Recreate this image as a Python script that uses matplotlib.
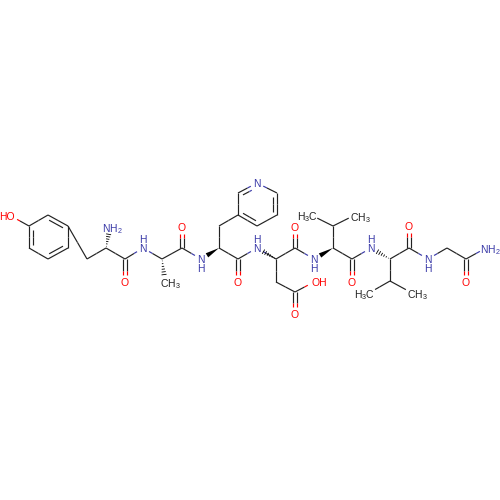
import matplotlib
matplotlib.use("Agg")
import matplotlib.pyplot as plt
import numpy as np

plt.rcParams['mathtext.default'] = 'regular'
plt.rcParams['mathtext.fontset'] = 'custom'
plt.rcParams['mathtext.rm'] = 'Liberation Sans'

BLUE = "#3a3aa8"
RED = "#ff0000"
BLACK = "#222222"
colors = {"C": BLACK, "N": BLUE, "O": RED}

# atom positions (pixels)
atom_x = [29, 48, 68, 68, 48, 29, 11, 87, 106, 110, 125, 125, 143, 162, 165, 182, 182, 201,
          219, 219, 238, 238, 257, 277, 277, 257, 238, 238, 257, 276, 276, 295, 295, 314,
          295, 295, 314, 333, 333, 311, 355, 352, 352, 371, 390, 390, 369, 412, 409, 409,
          428, 447, 466, 466, 486]
atom_y = [226, 215, 226, 248, 259, 248, 216, 259, 248, 227, 259, 282, 248, 259, 282, 248, 227, 259,
          248, 226, 215, 193, 183, 193, 215, 226, 259, 282, 248, 259, 282, 292, 314, 282,
          248, 227, 259, 248, 226, 215, 215, 259, 282, 248, 259, 281, 293, 293, 248, 226,
          259, 248, 259, 282, 248]
atom_el = ["C", "C", "C", "C", "C", "C", "O", "C", "C", "N", "C", "O", "N", "C", "C", "C", "O", "N",
           "C", "C", "C", "C", "N", "C", "C", "C", "C", "O", "N", "C", "C", "C", "O", "O",
           "C", "O", "N", "C", "C", "C", "C", "C", "O", "N", "C", "C", "C", "C", "C", "O",
           "N", "C", "C", "O", "N"]
# atoms that carry a printed label even though they are carbon
label_carbons = [14, 39, 40, 46, 47]

single_bonds = [(0, 1), (2, 3), (4, 5), (0, 6), (2, 7), (7, 8), (8, 10), (10, 12), (12, 13),
                (13, 15), (15, 17), (18, 19), (19, 20), (20, 21), (22, 23), (24, 25),
                (18, 26), (26, 28), (28, 29), (29, 30), (30, 31), (31, 33), (29, 34), (34, 36),
                (37, 38), (38, 39), (38, 40), (37, 41), (41, 43), (44, 45), (45, 46), (45, 47),
                (44, 48), (48, 50), (50, 51), (51, 52), (52, 54)]
ring_double = [(1, 2, 48, 237), (3, 4, 48, 237), (5, 0, 48, 237),
               (21, 22, 257, 204), (23, 24, 257, 204), (25, 20, 257, 204)]
oxo_double = [(10, 11), (15, 16), (26, 27), (31, 32), (34, 35), (41, 42), (48, 49), (52, 53)]
solid_wedges = [(18, 17), (37, 36)]
dash_wedges = [(8, 9), (13, 14), (29, 28), (44, 43)]

# text printed on the atoms: text, x, y, colour, anchor
labels = [("HO", 15, 216, RED, "right"), ("NH$_2$", 102, 227, BLUE, "left"), ("H", 143, 239, BLUE, "center"),
          ("N", 143, 248, BLUE, "center"), ("O", 125, 282, RED, "center"), ("CH$_3$", 160, 282, BLACK, "left"),
          ("O", 182, 227, RED, "center"), ("N", 201, 259, BLUE, "center"), ("H", 201, 268, BLUE, "center"),
          ("N", 257, 183, BLUE, "center"), ("O", 238, 282, RED, "center"), ("H", 257, 239, BLUE, "center"),
          ("N", 257, 248, BLUE, "center"), ("OH", 311, 282, RED, "left"), ("O", 295, 314, RED, "center"),
          ("O", 295, 227, RED, "center"), ("N", 314, 259, BLUE, "center"), ("H", 314, 268, BLUE, "center"),
          ("H$_3$C", 318, 215, BLACK, "right"), ("CH$_3$", 350, 216, BLACK, "left"), ("O", 352, 282, RED, "center"),
          ("H", 371, 239, BLUE, "center"), ("N", 371, 248, BLUE, "center"), ("H$_3$C", 375, 293, BLACK, "right"),
          ("CH$_3$", 407, 293, BLACK, "left"), ("O", 409, 226, RED, "center"), ("N", 428, 259, BLUE, "center"),
          ("H", 428, 268, BLUE, "center"), ("O", 466, 282, RED, "center"), ("NH$_2$", 479.5, 248, BLUE, "left")]

LW = 0.85
GAP = 7


def trim(i, j):
    p = np.array([atom_x[i], atom_y[i]], float)
    q = np.array([atom_x[j], atom_y[j]], float)
    d = (q - p) / np.linalg.norm(q - p)
    a, b = p.copy(), q.copy()
    if atom_el[i] != "C" or i in label_carbons:
        a = p + d * GAP
    if atom_el[j] != "C" or j in label_carbons:
        b = q - d * GAP
    return p, q, a, b


def two_tone(ax, a, b, mid, ci, cj):
    ax.plot([a[0], mid[0]], [a[1], mid[1]], color=ci, lw=LW, solid_capstyle="butt")
    ax.plot([mid[0], b[0]], [mid[1], b[1]], color=cj, lw=LW, solid_capstyle="butt")


def bond(ax, i, j, shift=(0, 0)):
    p, q, a, b = trim(i, j)
    s = np.array(shift, float)
    two_tone(ax, a + s, b + s, (p + q) / 2 + s, colors[atom_el[i]], colors[atom_el[j]])


fig = plt.figure(figsize=(5, 5), dpi=100)
ax = fig.add_axes([0, 0, 1, 1])
ax.set_xlim(0, 500)
ax.set_ylim(500, 0)
ax.axis("off")

for i, j in single_bonds:
    bond(ax, i, j)

# ring double bonds: outer line plus a shorter inner one towards the ring centre
for i, j, cx, cy in ring_double:
    bond(ax, i, j)
    p, q, a, b = trim(i, j)
    d = (q - p) / np.linalg.norm(q - p)
    n = np.array([-d[1], d[0]])
    if np.dot(n, np.array([cx, cy]) - (p + q) / 2) < 0:
        n = -n
    a2 = a + n * 4 + d * (3.5 if np.allclose(a, p) else 1)
    b2 = b + n * 4 - d * (3.5 if np.allclose(b, q) else 1)
    two_tone(ax, a2, b2, (p + q) / 2 + n * 4, colors[atom_el[i]], colors[atom_el[j]])

for i, j in oxo_double:
    bond(ax, i, j, (-1.6, 0))
    bond(ax, i, j, (1.6, 0))

for i, j in solid_wedges:
    p, q, a, b = trim(i, j)
    d = (b - p) / np.linalg.norm(b - p)
    n = np.array([-d[1], d[0]])
    ax.fill([p[0], b[0] + n[0] * 2.4, b[0] - n[0] * 2.4],
            [p[1], b[1] + n[1] * 2.4, b[1] - n[1] * 2.4], color="black", lw=0)

for i, j in dash_wedges:
    p, q, a, b = trim(i, j)
    v = b - p
    L = np.linalg.norm(v)
    d = v / L
    n = np.array([-d[1], d[0]])
    for t in np.arange(0.12, 1.01, 0.17):
        c = p + v * t
        w = 2.6 * t
        ax.plot([c[0] - n[0] * w, c[0] + n[0] * w], [c[1] - n[1] * w, c[1] + n[1] * w],
                color="black", lw=0.6, solid_capstyle="butt")

for txt, x, y, col, ha in labels:
    ax.text(x - (0.5 if ha == "center" else 0), y, txt, color=col, fontsize=7.5, ha=ha,
            va="center_baseline", family="Liberation Sans")

fig.savefig("out.png", dpi=100, facecolor="white")
